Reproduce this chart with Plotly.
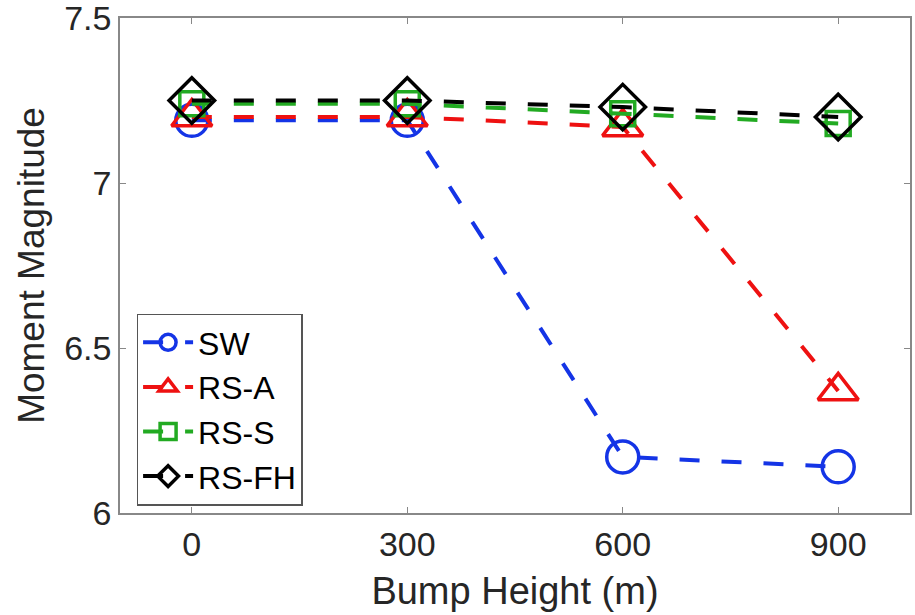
import plotly.graph_objects as go

bump_height = [0, 300, 600, 900]
sw = [7.19, 7.19, 6.17, 6.14]
rs_a = [7.20, 7.20, 7.17, 6.37]
rs_s = [7.24, 7.24, 7.21, 7.18]
rs_fh = [7.25, 7.25, 7.23, 7.20]

series = [
    ("SW", sw, "#1434e6", "circle-open", 32),
    ("RS-A", rs_a, "#ee1111", "triangle-up-open", 35),
    ("RS-S", rs_s, "#22aa22", "square-open", 24),
    ("RS-FH", rs_fh, "#000000", "diamond-open", 35),
]

fig = go.Figure()
for name, vals, color, sym, size in series:
    fig.add_trace(go.Scatter(
        x=bump_height, y=vals, name=name, mode="lines+markers",
        line=dict(color=color, width=4, dash="20px,22px"),
        marker=dict(symbol=sym, size=size, color=color, line=dict(width=3.5, color=color)),
    ))

font = "Liberation Sans, Arial, sans-serif"
fig.update_layout(
    width=915, height=615,
    margin=dict(l=120, r=5, t=18, b=102),
    paper_bgcolor="white", plot_bgcolor="white",
    font=dict(family=font, size=34, color="#262626"),
    showlegend=True,
    legend=dict(
        x=0.021, y=0.403, xanchor="left", yanchor="top",
        bgcolor="white", bordercolor="#555555", borderwidth=1.5,
        font=dict(size=32, color="#000000"), itemwidth=50,
        tracegroupgap=0,
    ),
    xaxis=dict(
        range=[-100, 1000], tickvals=bump_height, ticktext=[str(v) for v in bump_height],
        showgrid=False, zeroline=False, showline=True, linecolor="#888888", linewidth=1.5,
        mirror="ticks", ticks="inside", ticklen=6, tickcolor="#888888",
        tickfont=dict(size=34), ticklabeloverflow="allow", automargin=False,
        title=dict(text="Bump Height (m)", font=dict(size=38), standoff=16),
    ),
    yaxis=dict(
        range=[6, 7.5], tickvals=[6, 6.5, 7, 7.5], ticktext=["6", "6.5", "7", "7.5"],
        showgrid=False, zeroline=False, showline=True, linecolor="#888888", linewidth=1.5,
        mirror="ticks", ticks="inside", ticklen=6, tickcolor="#888888",
        tickfont=dict(size=34), ticklabeloverflow="allow", automargin=False,
        title=dict(text="Moment Magnitude", font=dict(size=37), standoff=8),
    ),
)

fig.write_html("out.html")
